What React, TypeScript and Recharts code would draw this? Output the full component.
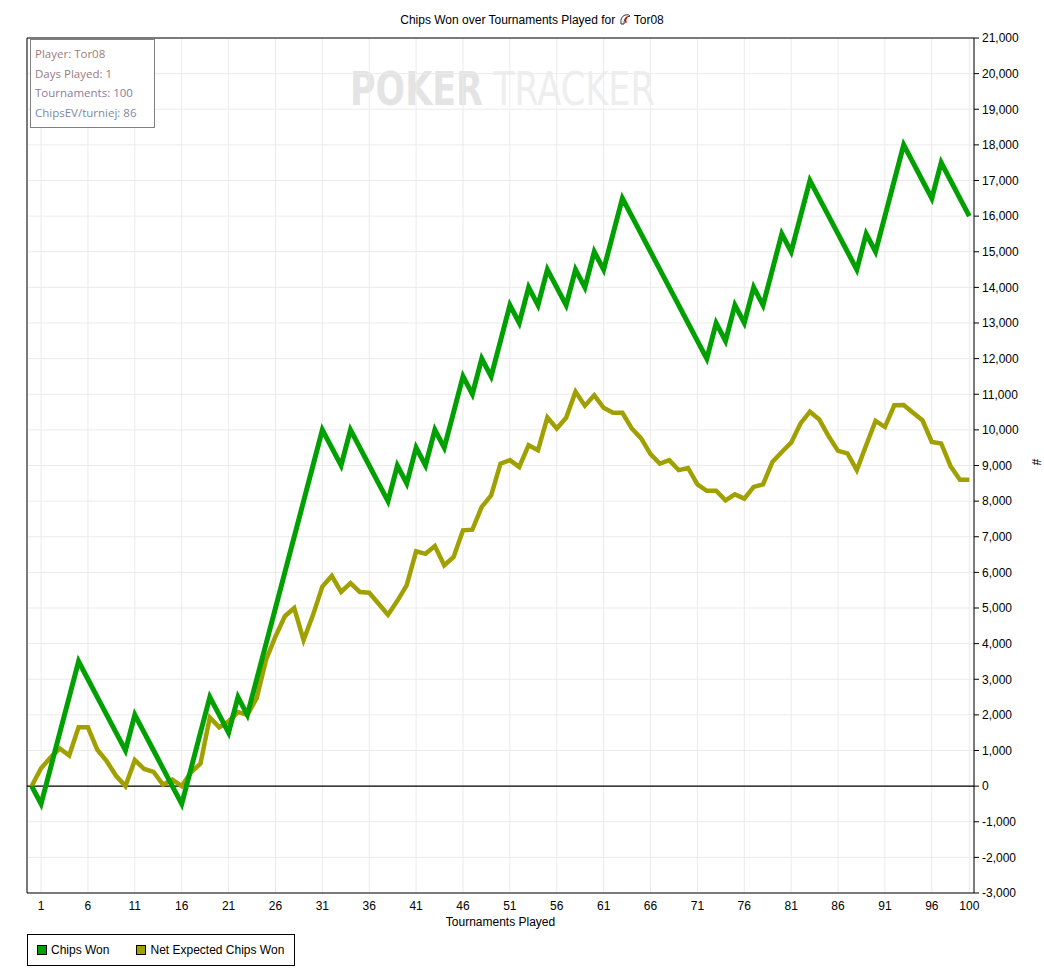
import { CartesianGrid, Line, LineChart, ReferenceLine, XAxis, YAxis } from "recharts";

const tournaments = Array.from({ length: 101 }, (_, i) => i);

const chipsWon = [
  0, -500, 500, 1500, 2500, 3500, 3000, 2500, 2000, 1500, 1000, 2000, 1500, 1000, 500, 0,
  -500, 500, 1500, 2500, 2000, 1500, 2500, 2000, 3000, 4000, 5000, 6000, 7000, 8000, 9000,
  10000, 9500, 9000, 10000, 9500, 9000, 8500, 8000, 9000, 8500, 9500, 9000, 10000, 9500,
  10500, 11500, 11000, 12000, 11500, 12500, 13500, 13000, 14000, 13500, 14500, 14000, 13500,
  14500, 14000, 15000, 14500, 15500, 16500, 16000, 15500, 15000, 14500, 14000, 13500, 13000,
  12500, 12000, 13000, 12500, 13500, 13000, 14000, 13500, 14500, 15500, 15000, 16000, 17000,
  16500, 16000, 15500, 15000, 14500, 15500, 15000, 16000, 17000, 18000, 17500, 17000, 16500,
  17500, 17000, 16500, 16000,
];

const netExpected = [
  0, 500, 800, 1060, 860, 1650, 1650, 1020, 700, 290, 0, 730, 480, 400, 40, 180, 0, 390,
  630, 1930, 1650, 1820, 2080, 2000, 2470, 3550, 4200, 4770, 5000, 4100, 4800, 5600, 5900,
  5450, 5700, 5450, 5430, 5120, 4810, 5200, 5640, 6590, 6520, 6740, 6200, 6430, 7180, 7200,
  7840, 8160, 9050, 9150, 8960, 9570, 9430, 10350, 10040, 10340, 11070, 10680, 10970, 10620,
  10480, 10480, 10040, 9760, 9320, 9050, 9150, 8870, 8930, 8470, 8290, 8290, 8020, 8190,
  8070, 8400, 8470, 9100, 9380, 9640, 10180, 10510, 10290, 9820, 9410, 9340, 8870, 9570,
  10250, 10080, 10690, 10700, 10480, 10270, 9660, 9620, 8980, 8600, 8600,
];

const xTicks = [1, 6, 11, 16, 21, 26, 31, 36, 41, 46, 51, 56, 61, 66, 71, 76, 81, 86, 91, 96, 100];
const yTicks = [
  -3000, -2000, -1000, 0, 1000, 2000, 3000, 4000, 5000, 6000, 7000, 8000, 9000, 10000, 11000,
  12000, 13000, 14000, 15000, 16000, 17000, 18000, 19000, 20000, 21000,
];

const infoLines = [
  { text: "Player: Tor08", color: "#a07a7a" },
  { text: "Days Played: 1", color: "#9a7a80" },
  { text: "Tournaments: 100", color: "#8c7c9a" },
  { text: "ChipsEV/turniej: 86", color: "#7c8aa6" },
];

const legendItems = [
  { name: "Chips Won", color: "#00a000" },
  { name: "Net Expected Chips Won", color: "#a0a000" },
];

const data = tournaments.map((t, i) => ({
  t,
  won: chipsWon[i],
  ev: netExpected[i],
}));

const font = "'Liberation Sans', Arial, sans-serif";
const wmFont = "'DejaVu Sans Condensed', 'DejaVu Sans', sans-serif";

export default function App() {
  return (
    <div style={{ position: "absolute", left: 0, top: 0, width: 1044, height: 976, background: "#fff", fontFamily: font }}>
      {/* watermark behind the plot */}
      <svg width={1044} height={976} style={{ position: "absolute", left: 0, top: 0 }}>
        <text x={350} y={105} fontFamily={wmFont} fontWeight="bold" fontSize={46} fill="#e4e4e4" textLength={133} lengthAdjust="spacingAndGlyphs">
          POKER
        </text>
        <text x={493} y={105} fontFamily={wmFont} fontSize={46} fill="#eeeeee" textLength={162} lengthAdjust="spacingAndGlyphs">
          TRACKER
        </text>
      </svg>

      <div style={{ position: "absolute", left: 0, top: 13, width: 1064, textAlign: "center", fontSize: 12, color: "#000" }}>
        Chips Won over Tournaments Played for{" "}
        <svg width={12} height={12} style={{ verticalAlign: "-1px" }}>
          <path d="M2 11 Q1 4 6 2 Q10 1 11 3 L8 4 Q5 5 5 11 Z" fill="none" stroke="#333" strokeWidth={1} />
          <path d="M8 4 Q6 6 7 10" fill="none" stroke="#d00" strokeWidth={1.4} />
        </svg>{" "}
        Tor08
      </div>

      <div style={{ position: "absolute", left: 0, top: 0 }}>
        <LineChart width={1044} height={976} data={data} margin={{ top: 38, right: 0, left: 27, bottom: 0 }}>
          <CartesianGrid stroke="#ebebeb" />
          <XAxis
            dataKey="t"
            type="number"
            domain={[-0.5, 100.5]}
            ticks={xTicks}
            interval={0}
            height={83}
            tickLine={false}
            axisLine={{ stroke: "#000" }}
            tick={{ fill: "#000", fontSize: 12, fontFamily: font }}
            label={{ value: "Tournaments Played", position: "insideTop", offset: 24, fill: "#000", fontSize: 12, fontFamily: font }}
          />
          <YAxis
            orientation="right"
            domain={[-3000, 21000]}
            ticks={yTicks}
            interval={0}
            width={70}
            tickSize={5}
            tickMargin={3}
            axisLine={{ stroke: "#000" }}
            tickLine={{ stroke: "#000" }}
            tick={{ fill: "#000", fontSize: 12, fontFamily: font }}
            tickFormatter={(v: number) => v.toLocaleString("en-US")}
            label={{ value: "#", angle: 90, position: "insideRight", offset: 8, fill: "#000", fontSize: 12, fontFamily: font }}
          />
          <ReferenceLine y={0} stroke="#000" strokeWidth={1.2} />
          <ReferenceLine y={21000} stroke="#000" />
          <ReferenceLine x={-0.5} stroke="#000" />
          <Line type="linear" dataKey="ev" stroke="#a0a000" strokeWidth={4.5} dot={false} isAnimationActive={false} />
          <Line type="linear" dataKey="won" stroke="#00a000" strokeWidth={5} dot={false} isAnimationActive={false} />
        </LineChart>
      </div>

      <div
        style={{
          position: "absolute",
          left: 30,
          top: 39,
          width: 125,
          height: 89,
          border: "1px solid #808080",
          background: "#fff",
          fontFamily: "'Open Sans', 'Noto Sans', sans-serif",
          fontSize: 11.5,
          boxSizing: "border-box",
          paddingLeft: 4,
          paddingTop: 4,
        }}
      >
        {infoLines.map((l) => (
          <div key={l.text} style={{ color: l.color, height: 19.5, lineHeight: "19.5px", whiteSpace: "nowrap" }}>
            {l.text}
          </div>
        ))}
      </div>

      <div
        style={{
          position: "absolute",
          left: 27,
          top: 934,
          width: 268,
          height: 32,
          border: "1px solid #000",
          boxSizing: "border-box",
          display: "flex",
          alignItems: "center",
          paddingLeft: 9,
          fontSize: 12,
        }}
      >
        {legendItems.map((it, i) => (
          <div key={it.name} style={{ display: "flex", alignItems: "center", marginRight: i === 0 ? 27 : 0 }}>
            <span style={{ display: "inline-block", width: 8, height: 8, background: it.color, border: "1px solid #000", marginRight: 4 }} />
            <span>{it.name}</span>
          </div>
        ))}
      </div>
    </div>
  );
}
